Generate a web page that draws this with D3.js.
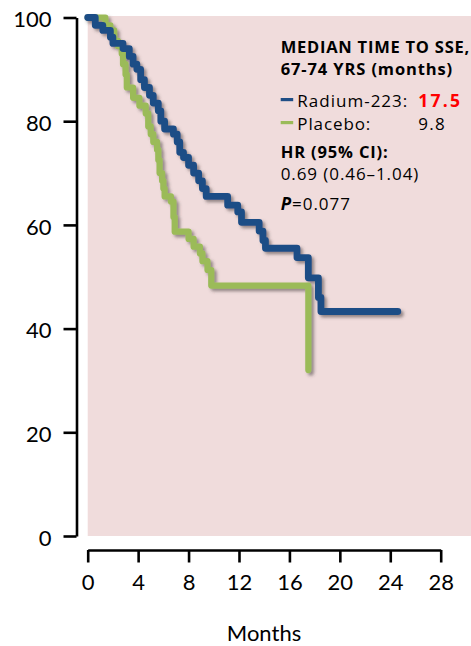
<!DOCTYPE html>
<html>
<head>
<meta charset="utf-8">
<script src="https://cdn.jsdelivr.net/npm/d3@7"></script>
<style>
  html, body { margin: 0; padding: 0; background: #fff; overflow: hidden; }
  svg { display: block; }
  text { font-family: Lato, "Open Sans", sans-serif; fill: #000; }
  .legend text { font-family: "Open Sans", Lato, sans-serif; }
</style>
</head>
<body>
<svg id="chart" width="471" height="646"></svg>
<script>
// Kaplan–Meier step data: month at which each step occurs and the
// event-free proportion (%) after it.
const radiumMonths = [0, 0.6, 1.2, 1.8, 2.0, 2.8, 3.3, 3.6, 3.9, 4.2, 4.5, 4.9, 5.2, 5.6, 5.8, 6.1,
  6.8, 7.1, 7.3, 7.6, 8.0, 8.4, 8.8, 9.1, 9.4, 11.1, 11.9, 12.2, 13.6, 13.9, 14.1,
  16.6, 17.5, 18.3, 18.5, 24.6];
const radiumSurv = [100, 98.5, 97.5, 96.2, 95.0, 94.0, 92.5, 91.0, 90.0, 88.0, 86.5, 85.0, 83.5, 82.0, 80.0, 78.5,
  77.5, 76.0, 74.0, 73.0, 71.5, 70.0, 68.5, 67.0, 65.5, 63.8, 62.5, 60.5, 58.8, 57.0, 55.5,
  53.7, 49.8, 46.0, 43.3, 43.3];

const placeboMonths = [0, 1.4, 1.8, 2.1, 2.4, 2.7, 2.8, 3.0, 3.1, 3.6, 4.1, 4.6, 4.8, 5.0, 5.2, 5.5,
  5.6, 5.7, 5.9, 6.0, 6.1, 6.6, 6.8, 6.9, 8.0, 8.4, 8.9, 9.1, 9.5, 9.8, 17.5];
const placeboSurv = [100, 98.5, 97.5, 95.5, 94.5, 93.0, 91.0, 89.0, 86.5, 84.5, 83.0, 81.5, 79.0, 77.5, 76.0, 74.5,
  72.5, 70.0, 68.5, 67.0, 65.5, 64.5, 61.5, 58.7, 57.3, 55.8, 54.5, 53.0, 51.3, 48.3, 32.0];

const xTicks = [0, 4, 8, 12, 16, 20, 24, 28];
const yTicks = [0, 20, 40, 60, 80, 100];

const seriesNames = ["Radium-223:", "Placebo:"];
const medians = ["17.5", "9.8"];
const titleLines = ["MEDIAN TIME TO SSE,", "67-74 YRS (months)"];
const hrLabel = "HR (95% CI):";
const hrValue = "0.69 (0.46\u20131.04)";
const pValue = "=0.077";
const xTitle = "Months";

const colors = { radium: "#1f4e86", placebo: "#9bbb59", median: "#ff0000", panel: "#f0dcdc" };

const svg = d3.select("#chart");

const x = d3.scaleLinear().domain([0, 28]).range([87.7, 440.7]);
const y = d3.scaleLinear().domain([0, 100]).range([536, 17.5]);

// drop shadow under the curves
const defs = svg.append("defs");
const f = defs.append("filter").attr("id", "shadow")
  .attr("x", "-10%").attr("y", "-10%").attr("width", "130%").attr("height", "130%");
f.append("feDropShadow").attr("dx", 2.5).attr("dy", 2.5).attr("stdDeviation", 1.4)
  .attr("flood-color", "#4a4040").attr("flood-opacity", 0.55);

// plot panel
svg.append("rect")
  .attr("x", x(0)).attr("y", y(100) - 1.5)
  .attr("width", 471 - x(0)).attr("height", y(0) - y(100) + 1.5)
  .attr("fill", colors.panel);

// y axis
const yAxis = svg.append("g")
  .attr("transform", "translate(76.5,0)")
  .call(d3.axisLeft(y).tickValues(yTicks).tickSize(13).tickSizeOuter(0).tickPadding(12));
yAxis.select(".domain").attr("stroke", "#000").attr("stroke-width", 2.6);
yAxis.selectAll(".tick line").attr("stroke", "#000").attr("stroke-width", 2.6);
yAxis.selectAll(".tick text").attr("font-size", 22).attr("font-family", "Lato").attr("dy", "0.42em");

// x axis
const xAxis = svg.append("g")
  .attr("transform", "translate(0,550)")
  .call(d3.axisBottom(x).tickValues(xTicks).tickSize(12.5).tickSizeOuter(0).tickPadding(12));
xAxis.select(".domain").attr("stroke", "#000").attr("stroke-width", 2.6);
xAxis.selectAll(".tick line").attr("stroke", "#000").attr("stroke-width", 2.6);
xAxis.selectAll(".tick text").attr("font-size", 22).attr("font-family", "Lato");

svg.append("text")
  .attr("x", 264).attr("y", 640.5)
  .attr("text-anchor", "middle").attr("font-size", 22)
  .text(xTitle);

// survival curves
const line = d3.line()
  .x(d => x(d[0])).y(d => y(d[1]))
  .curve(d3.curveStepAfter);

const curves = svg.append("g").attr("filter", "url(#shadow)");
curves.append("path")
  .datum(d3.zip(placeboMonths, placeboSurv))
  .attr("d", line)
  .attr("fill", "none").attr("stroke", colors.placebo)
  .attr("stroke-width", 6.2).attr("stroke-linejoin", "round").attr("stroke-linecap", "round");
curves.append("path")
  .datum(d3.zip(radiumMonths, radiumSurv))
  .attr("d", line)
  .attr("fill", "none").attr("stroke", colors.radium)
  .attr("stroke-width", 6.8).attr("stroke-linejoin", "round").attr("stroke-linecap", "round");

// legend block; text runs are spaced out to their set widths
const lg = svg.append("g").attr("class", "legend");
const lx = 280.7;
const fit = (sel, w) => sel.attr("textLength", w).attr("lengthAdjust", "spacing");

fit(lg.append("text").attr("x", lx).attr("y", 53.3)
  .attr("font-size", 16.5).attr("font-weight", "bold").text(titleLines[0]), 188.5);
fit(lg.append("text").attr("x", lx).attr("y", 74.6)
  .attr("font-size", 16.5).attr("font-weight", "bold").text(titleLines[1]), 171.5);

[[colors.radium, seriesNames[0], medians[0], 106.8, true, 110, 41.7],
 [colors.placebo, seriesNames[1], medians[1], 129.8, false, 73, 26.6]].forEach(([c, name, med, yy, hi, wn, wm]) => {
  lg.append("line").attr("x1", lx).attr("x2", lx + 12.5)
    .attr("y1", yy - 7.2).attr("y2", yy - 7.2)
    .attr("stroke", c).attr("stroke-width", 3.2);
  fit(lg.append("text").attr("x", 297.3).attr("y", yy).attr("font-size", 17).text(name), wn);
  fit(lg.append("text").attr("x", 418.2).attr("y", yy)
    .attr("font-size", hi ? 17.5 : 17)
    .attr("font-weight", hi ? "bold" : "normal")
    .style("fill", hi ? colors.median : "#000")
    .text(med), wm);
});

fit(lg.append("text").attr("x", lx).attr("y", 158.3)
  .attr("font-size", 16.5).attr("font-weight", "bold").text(hrLabel), 107);
fit(lg.append("text").attr("x", lx).attr("y", 179.5)
  .attr("font-size", 17).text(hrValue), 137.6);
const p = lg.append("text").attr("x", lx).attr("y", 210).attr("font-size", 17);
p.append("tspan").attr("font-weight", "bold").attr("font-style", "italic").text("P");
p.append("tspan").text(pValue);
fit(p, 69.3);
</script>
</body>
</html>
